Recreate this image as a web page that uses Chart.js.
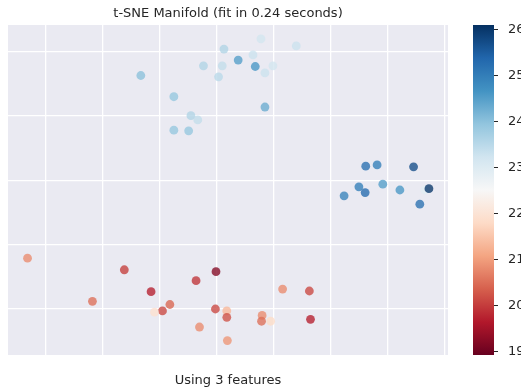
<!DOCTYPE html>
<html><head><meta charset="utf-8">
<script src="https://cdn.jsdelivr.net/npm/chart.js@4.4.0/dist/chart.umd.min.js"></script>
<style>html,body{margin:0;padding:0;background:#fff}#wrap{width:521px;height:389px}</style>
</head><body><div id="wrap"><canvas id="c" width="521" height="389"></canvas></div>
<script>
const xValues = [-13.3, 1.3, -2.3, 1.0, 0.35, 3.8, 6.4, 6.8, 7.8, -7.5, -4.5, -3.3, -7.5, -4.9, 14.0, 9.9, 8.5, 8.5,
  26.2, 28.2, 34.6, 25.0, 26.1, 22.4, 29.2, 32.2, 36.6, 37.3, 35.7,
  -33.2, -16.2, -21.8, -11.5, -3.6, -0.1, -8.2, -9.5, -10.9, -0.2, 1.8, 1.8, -3.0, 1.9, 8.0, 7.9, 9.5, 11.6, 16.3, 16.5];
const yValues = [16.3, 20.4, 17.8, 17.8, 16.1, 18.7, 19.5, 17.7, 22.0, 13.0, 10.05, 9.4, 7.8, 7.7, 20.9, 17.8, 16.7, 11.4,
  2.2, 2.4, 2.1, -1.0, -1.9, -2.4, -0.6, -1.5, -1.5, -1.3, -3.7,
  -12.1, -13.9, -18.8, -17.3, -15.6, -14.2, -19.3, -20.3, -20.5, -20.0, -20.3, -21.3, -22.8, -24.9, -21.0, -21.9, -21.9, -16.9, -17.2, -21.6];
const targetValues = [24.0, 23.6, 23.6, 23.4, 23.5, 24.5, 23.3, 24.6, 23.2, 23.9, 23.6, 23.4, 23.9, 23.9, 23.3, 23.2, 23.3, 24.3,
  25.2, 25.0, 25.7, 25.0, 25.3, 24.9, 24.5, 24.6, 22.9, 26.0, 25.2,
  20.8, 20.0, 20.5, 19.7, 19.9, 19.2, 20.4, 20.1, 21.9, 20.1, 21.3, 20.2, 20.8, 20.9, 20.8, 20.5, 21.8, 20.8, 20.1, 19.7];
const colorbarTicks = [19, 20, 21, 22, 23, 24, 25, 26];
const xGridTicks = [-30, -20, -10, 0, 10, 20, 30, 40];
const yGridTicks = [-20, -10, 0, 10, 20];
const colorRange = [18.92, 26.08];
const titleText = 't-SNE Manifold (fit in 0.24 seconds)';
const xLabelText = 'Using 3 features';

const rdbu = [[103,0,31],[178,24,43],[214,96,77],[244,165,130],[253,219,199],[247,247,247],[209,229,240],[146,197,222],[67,147,195],[33,102,172],[5,48,97]];
function cmap(t) {
  t = Math.max(0, Math.min(1, t)) * 10;
  const i = Math.min(9, Math.floor(t)), f = t - i;
  const a = rdbu[i], b = rdbu[i + 1];
  return [0,1,2].map(k => Math.round(a[k] + (b[k] - a[k]) * f));
}
function colorFor(v, alpha) {
  const c = cmap((v - colorRange[0]) / (colorRange[1] - colorRange[0]));
  return `rgba(${c[0]},${c[1]},${c[2]},${alpha})`;
}
const points = xValues.map((x, i) => ({x, y: yValues[i]}));
const textColor = '#262626';
const fontFamily = '"DejaVu Sans"';

const bgPlugin = {
  id: 'bg',
  beforeDraw(chart) {
    const {ctx, chartArea: a} = chart;
    ctx.save(); ctx.fillStyle = '#EAEAF2';
    ctx.fillRect(a.left, a.top, a.right - a.left, a.bottom - a.top);
    ctx.restore();
  }
};
const colorbarPlugin = {
  id: 'colorbar',
  afterDraw(chart) {
    const {ctx} = chart;
    const s = chart.scales.cb;
    const top = s.getPixelForValue(colorRange[1]), bottom = s.getPixelForValue(colorRange[0]);
    const x0 = 473, w = 21;
    const g = ctx.createLinearGradient(0, bottom, 0, top);
    rdbu.forEach((c, i) => g.addColorStop(i / 10, `rgb(${c[0]},${c[1]},${c[2]})`));
    ctx.save();
    ctx.fillStyle = g;
    ctx.fillRect(x0, top, w, bottom - top);
    ctx.strokeStyle = textColor; ctx.lineWidth = 1;
    ctx.fillStyle = textColor;
    ctx.font = '13px ' + fontFamily;
    ctx.textBaseline = 'middle'; ctx.textAlign = 'left';
    colorbarTicks.forEach(v => {
      const y = Math.round(s.getPixelForValue(v)) + 0.5;
      ctx.beginPath(); ctx.moveTo(x0 + w, y); ctx.lineTo(x0 + w + 4, y); ctx.stroke();
      ctx.fillText(String(v), x0 + w + 14, y);
    });
    ctx.restore();
  }
};

new Chart(document.getElementById('c'), {
  type: 'scatter',
  data: {
    datasets: [{
      data: points,
      pointRadius: 4.4,
      pointHoverRadius: 4.4,
      pointBorderWidth: 0,
      pointBackgroundColor: targetValues.map(v => colorFor(v, 0.78)),
      pointBorderColor: 'rgba(0,0,0,0)'
    }]
  },
  options: {
    responsive: false,
    animation: false,
    devicePixelRatio: 1,
    layout: {padding: {left: 8, right: 73, top: 0, bottom: 0}},
    plugins: {
      legend: {display: false},
      tooltip: {enabled: false},
      title: {
        display: true, text: titleText, color: textColor,
        font: {family: fontFamily, size: 13, weight: 'normal', lineHeight: 1.2},
        padding: {top: 6.2, bottom: 3.2}
      }
    },
    scales: {
      x: {
        type: 'linear', min: -36.63, max: 40.65,
        afterBuildTicks: s => { s.ticks = xGridTicks.map(v => ({value: v})); },
        ticks: {display: false},
        grid: {color: '#ffffff', lineWidth: 1.3, drawTicks: false},
        border: {display: false},
        title: {display: true, text: xLabelText, color: textColor,
          font: {family: fontFamily, size: 13, lineHeight: 1.2}, padding: {top: 17.7, bottom: 0.7}}
      },
      y: {
        type: 'linear', min: -27.15, max: 24.15,
        afterBuildTicks: s => { s.ticks = yGridTicks.map(v => ({value: v})); },
        ticks: {display: false},
        grid: {color: '#ffffff', lineWidth: 1.3, drawTicks: false},
        border: {display: false}
      },
      cb: {
        type: 'linear', position: 'right', display: false,
        min: colorRange[0], max: colorRange[1]
      }
    }
  },
  plugins: [bgPlugin, colorbarPlugin]
});
</script></body></html>
